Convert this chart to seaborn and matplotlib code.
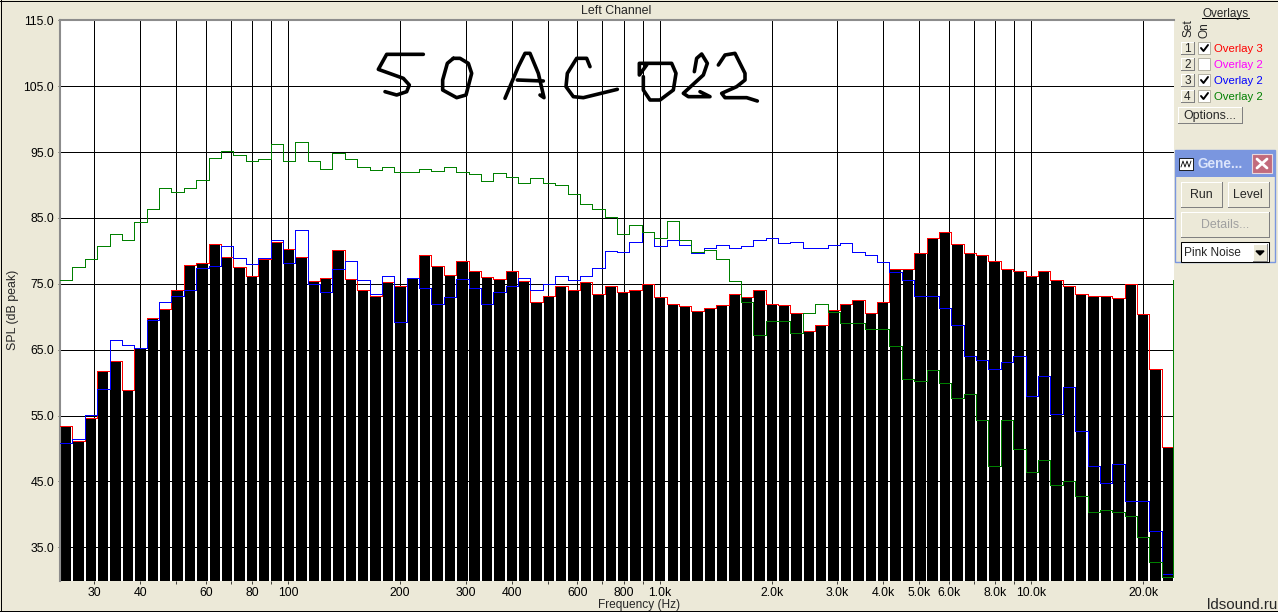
import matplotlib
matplotlib.use("Agg")
import matplotlib.pyplot as plt
from matplotlib.patches import Rectangle
import pandas as pd
import seaborn as sns

# 1/9 octave band centres (Hz)
band_freqs = [25.24, 27.25, 29.42, 31.77, 34.30, 37.03, 39.98, 43.17, 46.61, 50.33,
              54.37, 58.7, 63.4, 68.4, 73.9, 79.8, 86.2, 93.0, 100.4, 108.5,
              117.1, 126.5, 136.5, 147.4, 159.2, 171.9, 185.6, 200.4, 216.4, 233.6,
              252.2, 272.4, 294.1, 317.6, 342.9, 370.2, 399.8, 431.5, 465.9, 503,
              543, 586.4, 633.1, 683.7, 738.2, 797, 860.6, 929.2, 1003, 1084,
              1170, 1263, 1364, 1473, 1590, 1717, 1854, 2002, 2161, 2334,
              2520, 2721, 2938, 3172, 3425, 3698, 3993, 4311, 4655, 5027,
              5427, 5860, 6327, 6832, 7376, 7965, 8600, 9285, 10026, 10826,
              11690, 12622, 13628, 14715, 15889, 17156, 18524, 20002, 21596, 23318]

spl_bars = [53.4, 51.2, 54.7, 61.7, 63.3, 58.8, 65.2, 69.8, 71.2, 74.1,
            77.8, 78.2, 81.0, 79.0, 77.6, 76.2, 78.7, 81.4, 80.3, 79.1,
            75.4, 75.9, 80.1, 75.8, 74.0, 73.1, 75.3, 74.7, 75.9, 79.4,
            77.7, 76.4, 78.4, 77.0, 76.1, 75.7, 76.9, 75.4, 72.3, 73.1,
            74.6, 74.0, 75.3, 73.4, 74.6, 73.7, 74.1, 74.9, 73.0, 72.0,
            71.6, 70.8, 71.4, 71.8, 73.5, 73.0, 74.0, 72.0, 71.8, 70.6,
            67.9, 68.8, 71.0, 72.0, 72.5, 70.6, 72.3, 77.2, 77.2, 79.6,
            81.9, 82.9, 81.1, 79.7, 79.3, 78.4, 77.3, 77.0, 76.2, 77.0,
            75.6, 74.6, 73.5, 73.2, 73.1, 72.9, 75.0, 70.4, 62.1, 50.2]

overlay_blue = [50.8, 51.4, 55.1, 59.1, 66.4, 65.7, 65.2, 69.5, 72.2, 73.2,
                74.1, 77.4, 77.7, 80.8, 78.9, 78.0, 78.9, 81.7, 78.2, 83.1,
                75.0, 73.7, 77.3, 78.4, 75.5, 73.5, 76.2, 69.2, 75.9, 74.4,
                72.0, 73.0, 75.8, 74.4, 72.0, 73.8, 74.7, 75.9, 74.0, 75.0,
                76.2, 75.6, 76.2, 77.4, 80.0, 79.9, 81.4, 82.8, 80.8, 81.7,
                80.9, 79.7, 80.5, 80.9, 80.5, 80.7, 81.7, 81.9, 81.2, 81.4,
                80.5, 80.5, 80.9, 81.2, 79.9, 79.4, 78.3, 76.8, 75.6, 73.2,
                73.1, 71.4, 68.7, 64.0, 63.5, 62.1, 63.2, 64.1, 57.9, 61.0,
                55.3, 59.4, 52.6, 47.4, 44.8, 47.6, 42.1, 42.0, 37.4, 31.0]

overlay_green = [75.5, 77.6, 78.8, 80.7, 82.5, 81.6, 84.4, 86.3, 89.5, 89.0,
                 89.6, 90.8, 94.1, 95.2, 94.6, 93.6, 93.9, 96.2, 93.7, 96.5,
                 93.6, 92.5, 94.8, 94.0, 92.7, 92.2, 92.8, 91.9, 91.9, 92.4,
                 92.1, 92.8, 91.9, 91.6, 90.6, 91.8, 91.2, 90.3, 91.0, 90.3,
                 90.0, 88.6, 87.1, 86.3, 85.1, 82.5, 84.0, 82.8, 81.9, 84.6,
                 81.6, 79.9, 80.2, 78.7, 75.4, 72.2, 67.2, 69.3, 69.3, 67.6,
                 70.5, 71.9, 70.7, 69.1, 69.0, 68.1, 68.1, 65.5, 60.6, 60.3,
                 61.9, 60.0, 57.6, 58.2, 54.3, 47.4, 54.3, 49.9, 46.4, 48.3,
                 44.4, 45.0, 42.8, 40.4, 40.6, 40.3, 39.7, 36.5, 32.7, 30.5]
green_wrap = 75.5

freq_min, freq_end, freq_max = 24.3, 24020, 24222
spl_min, spl_max = 29.88, 115

grid_freqs = [30, 40, 50, 60, 70, 80, 90, 100, 200, 300, 400, 500, 600, 700, 800, 900,
              1000, 2000, 3000, 4000, 5000, 6000, 7000, 8000, 9000, 10000, 20000]
grid_labels = ["30", "40", "", "60", "", "80", "", "100", "200", "300", "400", "", "600", "", "800", "",
               "1.0k", "2.0k", "3.0k", "4.0k", "5.0k", "6.0k", "", "8.0k", "", "10.0k", "20.0k"]
spl_ticks = [35, 45, 55, 65, 75, 85, 95, 105, 115]
spl_labels = ["35.0", "45.0", "55.0", "65.0", "75.0", "85.0", "95.0", "105.0", "115.0"]

overlay_rows = ["Overlay 3", "Overlay 2", "Overlay 2", "Overlay 2"]
overlay_colors = ["#ff0000", "#ff00ff", "#0000ff", "#008000"]
overlay_checked = [True, False, True, True]

# handwritten note, in pixels x3 from (360, 30)
note_strokes = [
    [(190, 73), (80, 73), (55, 118), (130, 145), (148, 165), (140, 185), (110, 195), (75, 185)],
    [(280, 85), (262, 100), (248, 150), (248, 180), (290, 203), (318, 195), (335, 130), (325, 100), (300, 85), (280, 85)],
    [(435, 205), (475, 110), (495, 70), (510, 70), (535, 130), (552, 203), (540, 195)],
    [(472, 150), (550, 153)],
    [(690, 110), (680, 85), (650, 85), (622, 130), (618, 170), (640, 200), (670, 203), (772, 178)],
    [(860, 105), (838, 135), (838, 100), (935, 100), (948, 130), (940, 180), (900, 210), (870, 210), (850, 180), (850, 140)],
    [(1003, 125), (1010, 85), (1025, 72), (1042, 100), (1030, 135), (970, 190), (985, 200), (1050, 200), (1020, 185)],
    [(1075, 105), (1095, 75), (1125, 70), (1155, 130), (1155, 150), (1130, 170), (1085, 190), (1095, 203), (1160, 203), (1192, 213)],
]

W, H = 1278, 613
PANEL = "#ece9d8"
THIN = 0.5
STEP = 0.62

sns.set_theme(style="white")
plt.rcParams["font.family"] = ["Liberation Sans", "DejaVu Sans"]
plt.rcParams["font.size"] = 8.9
plt.rcParams["lines.antialiased"] = False


def px_box(x0, y0, x1, y1):
    return [x0 / W, 1 - y1 / H, (x1 - x0) / W, (y1 - y0) / H]


def raised(ax, x0, y0, x1, y1, face=PANEL):
    ax.add_patch(Rectangle((x0, y0), x1 - x0, y1 - y0, fc=face, ec="none"))
    ax.plot([x0, x0, x1], [y1, y0, y0], color="white", lw=THIN)
    ax.plot([x0, x1, x1], [y1, y1, y0], color="#808080", lw=THIN)


fig = plt.figure(figsize=(W / 100, H / 100), dpi=100, facecolor=PANEL)
ax = fig.add_axes(px_box(60, 20.3, 1174, 581), facecolor="white")

df = pd.DataFrame({"freq": band_freqs, "spl": spl_bars})
sns.barplot(data=df, x="freq", y="spl", ax=ax, orient="x", native_scale=True, log_scale=(10, False),
            color="black", saturation=1, width=0.85, linewidth=0, errorbar=None, antialiased=False)


def step_table(values, tail=None):
    # run the steps out to the edges of the plot
    freqs = [freq_min] + band_freqs + [freq_end]
    vals = [values[0]] + values + [values[-1]]
    if tail is not None:
        freqs = freqs + [freq_end]
        vals = vals + [tail]
    return pd.DataFrame({"freq": freqs, "spl": vals})


for values, color, tail in [(spl_bars, "#ff0000", None),
                            (overlay_blue, "#0000ff", None),
                            (overlay_green, "#008000", green_wrap)]:
    sns.lineplot(data=step_table(values, tail), x="freq", y="spl", ax=ax, color=color, lw=STEP,
                 estimator=None, sort=False, errorbar=None, drawstyle="steps-mid", zorder=4)

ax.set_xlim(freq_min, freq_max)
ax.set_ylim(spl_min, spl_max)
ax.set_xticks(grid_freqs, grid_labels)
ax.minorticks_off()
ax.set_yticks(spl_ticks, spl_labels)
ax.set_xlabel("")
ax.set_ylabel("")
ax.grid(True, color="black", lw=THIN)
ax.set_axisbelow(True)
ax.tick_params(axis="both", length=1.8, width=THIN, color="black", labelcolor="black", labelsize=8.8, pad=2.5,
               bottom=True, left=True)
ax.spines["right"].set_visible(False)
ax.spines["bottom"].set_visible(False)
for side in ["left", "top"]:
    ax.spines[side].set_color("#8c8c8c")
    ax.spines[side].set_linewidth(1.5)

# everything around the plot, in pixel coordinates
ui = fig.add_axes([0, 0, 1, 1], facecolor="none")
ui.set_xlim(0, W)
ui.set_ylim(H, 0)
ui.axis("off")

ui.plot([0.5, 0.5], [0, 610], color="black", lw=THIN)
ui.plot([0, W], [0.5, 0.5], color="black", lw=THIN)
ui.plot([0, W], [610.5, 610.5], color="black", lw=THIN)
ui.add_patch(Rectangle((0, 611), W, 2, fc="white", ec="none"))

ui.text(616, 10.5, "Left Channel", ha="center", va="center", fontsize=8.9)
ui.text(13, 310, "SPL (dB peak)", ha="center", va="center", rotation=90, fontsize=8.9)
ui.text(639, 605, "Frequency (Hz)", ha="center", va="center", fontsize=8.6)
ui.text(1277, 605, "ldsound.ru", ha="right", va="center", fontsize=10.8)

for stroke in note_strokes:
    ui.plot([360 + p[0] / 3 for p in stroke], [30 + p[1] / 3 for p in stroke], color="black", lw=2.6,
            solid_capstyle="round", solid_joinstyle="round", antialiased=True)

# overlay panel
ui.text(1225.5, 13.5, "Overlays", ha="center", va="center", fontsize=8.4)
ui.plot([1202, 1249], [17.5, 17.5], color="black", lw=THIN)
ui.text(1188, 28.5, "Set", ha="center", va="center", rotation=90, fontsize=8.6)
ui.text(1204, 30, "On", ha="center", va="center", rotation=90, fontsize=8.6)
for i, name in enumerate(overlay_rows):
    top = 42 + 16 * i
    raised(ui, 1181, top, 1194, top + 12)
    ui.text(1187.5, top + 6.5, str(i + 1), ha="center", va="center", fontsize=8.6)
    ui.add_patch(Rectangle((1198, top), 12, 12, fc="white", ec="#aca899", lw=0.6))
    if overlay_checked[i]:
        ui.plot([1201, 1203.5, 1208], [top + 6, top + 9, top + 3], color="black", lw=1.4, antialiased=True)
    ui.text(1214, top + 7, name, color=overlay_colors[i], ha="left", va="center", fontsize=8.2)
raised(ui, 1178, 107, 1242, 123)
ui.text(1210, 115.5, "Options...", ha="center", va="center", fontsize=8.9)

# generator window
ui.add_patch(Rectangle((1175, 150), 100, 112, fc=PANEL, ec="#7a96df", lw=1))
ui.add_patch(Rectangle((1175, 150), 100, 27, fc="#7a96df", ec="none"))
ui.add_patch(Rectangle((1179, 158), 14, 12, fc="white", ec="black", lw=0.6))
ui.plot([1181, 1183, 1185, 1187, 1189, 1191], [167, 161, 167, 161, 167, 161], color="black", lw=0.6, antialiased=True)
ui.text(1198, 164.5, "Gene...", color="#dbe4fb", ha="left", va="center", fontsize=9.8, fontweight="bold")
ui.add_patch(Rectangle((1252, 154), 20, 19, fc="#c26b7c", ec="#e8d8dc", lw=0.8))
ui.plot([1257, 1267], [159, 168], color="white", lw=2, antialiased=True)
ui.plot([1257, 1267], [168, 159], color="white", lw=2, antialiased=True)
raised(ui, 1181, 182, 1222, 207)
ui.text(1201, 194.5, "Run", ha="center", va="center", fontsize=8.9)
raised(ui, 1228, 182, 1269, 207)
ui.text(1248, 194.5, "Level", ha="center", va="center", fontsize=8.9)
raised(ui, 1181, 212, 1269, 237)
ui.text(1225, 224.5, "Details...", color="#a0a0a0", ha="center", va="center", fontsize=8.9)
ui.add_patch(Rectangle((1181, 242), 88, 20, fc="white", ec="black", lw=0.75))
ui.text(1184, 253.5, "Pink Noise", ha="left", va="center", fontsize=8.6)
raised(ui, 1253, 244, 1267, 261)
ui.fill([1256, 1264, 1260], [251, 251, 255], color="black")

fig.savefig("out.png", dpi=100, facecolor=fig.get_facecolor())
